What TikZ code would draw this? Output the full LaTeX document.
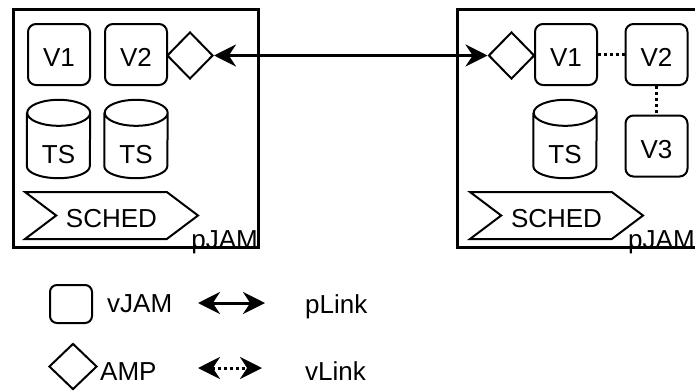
\documentclass[tikz,border=0pt]{standalone}
\usepackage{fontspec}
\setmainfont{Liberation Sans}
\usetikzlibrary{arrows.meta,
                positioning,
                shapes.geometric,
                shapes.symbols}
\tikzstyle{pjam} = [draw, line width=3pt, inner sep=0pt]
\tikzstyle{vjam} = [draw, line width=2pt, rounded corners=8pt, minimum width=62pt, minimum height=61pt, inner sep=0pt, text height=24pt, text depth=0pt]
\tikzstyle{amp} = [draw, diamond, line width=2pt, minimum width=46pt, minimum height=47pt, inner sep=0pt, fill=white]
\tikzstyle{tstore} = [minimum width=63pt, minimum height=78pt, inner sep=0pt, text height=48pt, text depth=0pt]
\tikzstyle{sched} = [draw, signal, signal to=east, signal from=west, signal pointer angle=74, line width=2pt, minimum width=173pt, minimum height=47pt, inner sep=0pt, fill=white, text height=23pt, text depth=0pt]
\tikzstyle{lbl} = [inner sep=0pt, anchor=base west]
\tikzstyle{plink} = [line width=3pt, {Stealth[length=22pt,width=22pt]}-{Stealth[length=22pt,width=22pt]}]
\tikzstyle{vlink} = [line width=3pt, dash pattern=on 3pt off 3pt]
% time store drum: name, position
\newcommand{\tsdrum}[2]{%
    \node[tstore] (#1) at #2 {TS};
    \draw[line width=2pt] ([yshift=-13pt]#1.north west) -- ([yshift=12pt]#1.south west)
        arc[start angle=180, end angle=360, x radius=31.5pt, y radius=12pt]
        -- ([yshift=-13pt]#1.north east)
        arc[start angle=0, end angle=180, x radius=31.5pt, y radius=13pt]
        arc[start angle=180, end angle=360, x radius=31.5pt, y radius=13pt];
}

\begin{document}
\begin{tikzpicture}[x=1pt, y=-1pt, font=\fontsize{26}{31}\selectfont]
    \useasboundingbox (0,0) rectangle (695,391);

    % left pJAM
    \node[pjam, minimum width=245pt, minimum height=238pt] (lbox) at (135.5,128) {};
    \node[vjam] (lv1) at (59,54.5) {V1};
    \node[vjam] (lv2) at (136,54.5) {V2};
    \node[amp] (lamp) at (190,55.5) {};
    \tsdrum{lts1}{(58.5,139)}
    \tsdrum{lts2}{(136,139)}
    \node[sched] (lsched) at (111.5,215.5) {SCHED};
    \node[lbl, anchor=base east] (lname) at (258,248) {pJAM};

    % right pJAM
    \node[pjam, minimum width=241pt, minimum height=238pt] (rbox) at (577.5,128) {};
    \node[amp] (ramp) at (511.5,55.5) {};
    \node[vjam] (rv1) at (566,54.5) {V1};
    \node[vjam] (rv2) at (656.5,54.5) {V2};
    \node[vjam] (rv3) at (656.5,146) {V3};
    \tsdrum{rts}{(565,139)}
    \node[sched] (rsched) at (556.5,215.5) {SCHED};
    \node[lbl] (rname) at (628,248) {pJAM};

    \draw[plink] (lamp.east) -- (ramp.west);
    \draw[vlink] (rv1) -- (rv2);
    \draw[vlink] (rv2) -- (rv3);

    % legend
    \node[vjam, rounded corners=7pt, minimum width=42pt, minimum height=38pt] (kvjam) at (71,304) {};
    \node[lbl] (kvjamtxt) at (107,312) {vJAM};
    \coordinate (kp1) at (198,303);
    \coordinate (kp2) at (265,303);
    \draw[plink] (kp1) -- (kp2);
    \node[lbl] (kplink) at (305,313) {pLink};

    \node[amp, minimum width=48pt, minimum height=46pt] (kamp) at (73,366.5) {};
    \node[lbl] (kamptxt) at (100,380) {AMP};
    \coordinate (kv1) at (198,368);
    \coordinate (kv2) at (262,368);
    \draw[line width=3pt, {Stealth[length=22pt,width=22pt]}-{Stealth[length=22pt,width=22pt]}, dash pattern=on 3pt off 3pt] (kv1) -- (kv2);
    \node[lbl] (kvlink) at (305,380) {vLink};
\end{tikzpicture}
\end{document}
